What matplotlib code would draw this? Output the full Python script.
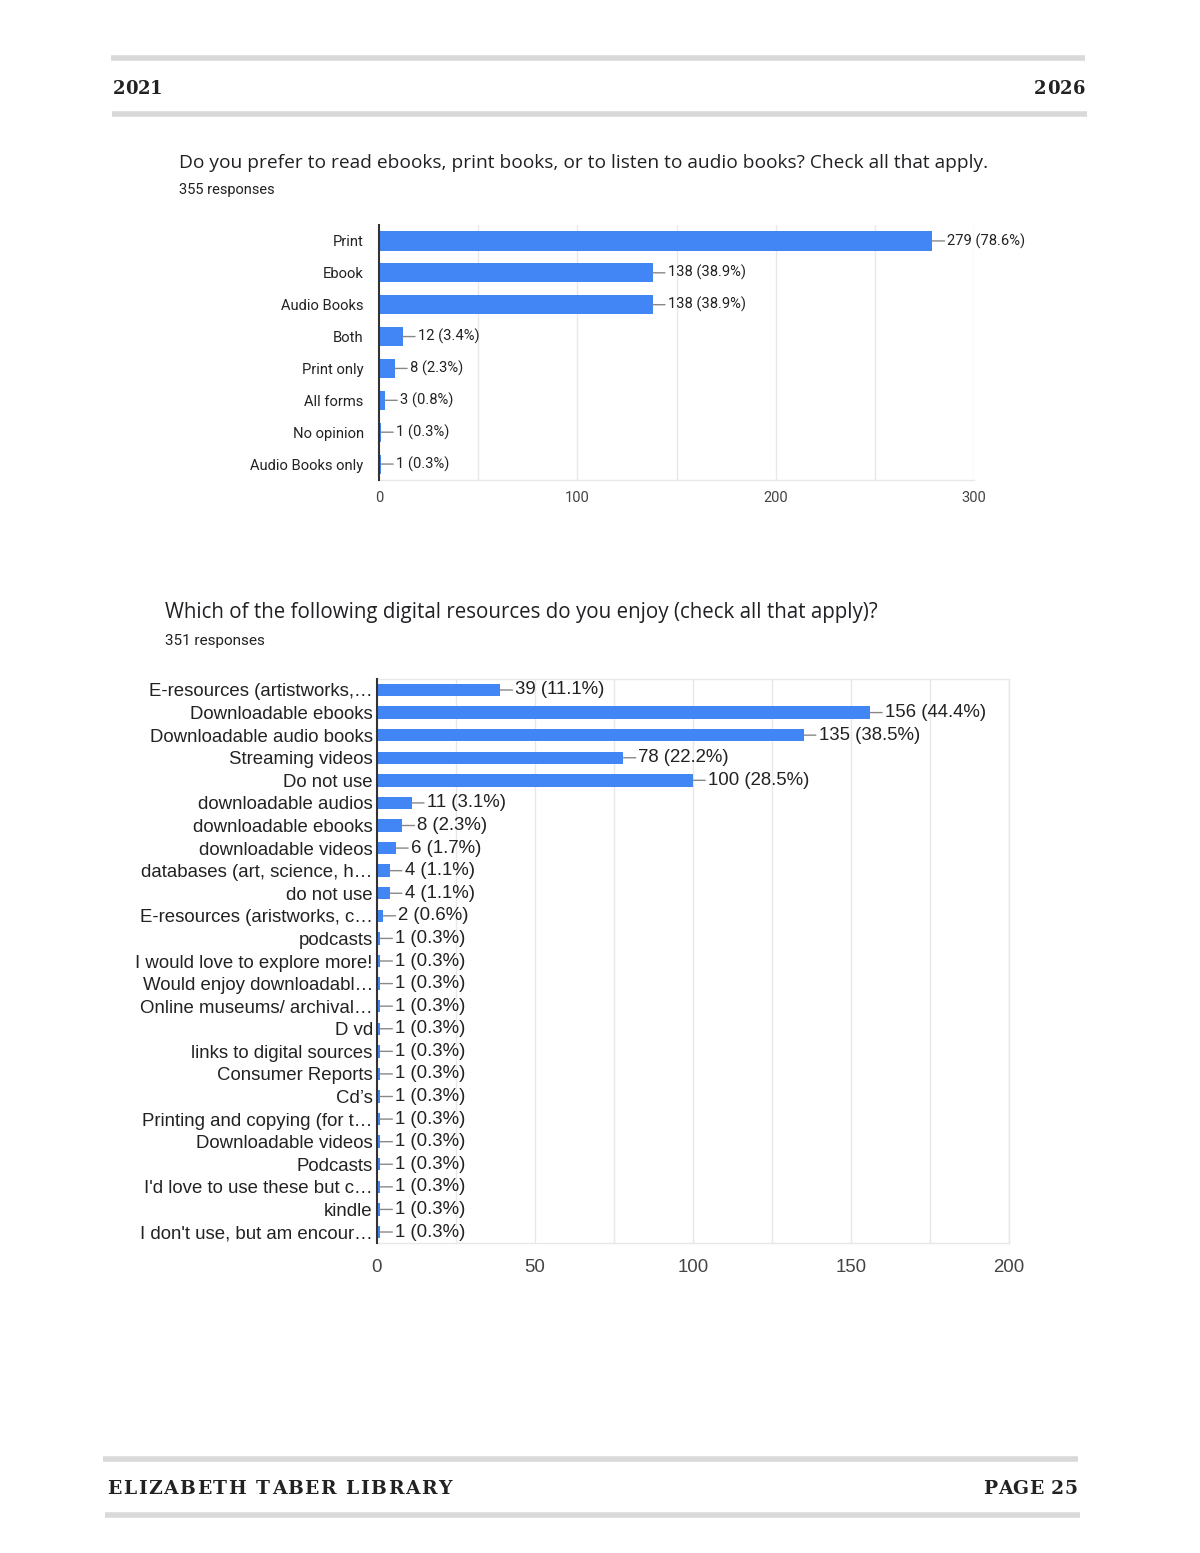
import matplotlib
matplotlib.use('Agg')
import matplotlib.pyplot as plt
from matplotlib.lines import Line2D
from matplotlib.font_manager import FontProperties

W, H = 1200, 1553

# Chart 1 data
fmt_labels = ['Print', 'Ebook', 'Audio Books', 'Both', 'Print only', 'All forms',
              'No opinion', 'Audio Books only']
fmt_counts = [279, 138, 138, 12, 8, 3, 1, 1]
fmt_pct = ['78.6%', '38.9%', '38.9%', '3.4%', '2.3%', '0.8%', '0.3%', '0.3%']

# Chart 2 data
dig_labels = ['E-resources (artistworks,…', 'Downloadable ebooks', 'Downloadable audio books',
              'Streaming videos', 'Do not use', 'downloadable audios', 'downloadable ebooks',
              'downloadable videos', 'databases (art, science, h…', 'do not use',
              'E-resources (aristworks, c…', 'podcasts', 'I would love to explore more!',
              'Would enjoy downloadabl…', 'Online museums/ archival…', 'D vd',
              'links to digital sources', 'Consumer Reports', 'Cd’s',
              'Printing and copying (for t…', 'Downloadable videos', 'Podcasts',
              "I'd love to use these but c…", 'kindle', "I don't use, but am encour…"]
dig_counts = [39, 156, 135, 78, 100, 11, 8, 6, 4, 4, 2] + [1] * 14
dig_pct = ['11.1%', '44.4%', '38.5%', '22.2%', '28.5%', '3.1%', '2.3%', '1.7%',
           '1.1%', '1.1%', '0.6%'] + ['0.3%'] * 14

BLUE = '#4285f4'

fig = plt.figure(figsize=(W / 100, H / 100), dpi=100)
renderer = fig.canvas.get_renderer()


def fx(x):
    return x / W


def fy(y):
    return 1 - y / H


def hline(x0, x1, y, lw=4):
    fig.add_artist(Line2D([fx(x0), fx(x1)], [fy(y), fy(y)], color='#d9d9d9',
                          lw=lw, solid_capstyle='butt', transform=fig.transFigure))


def spaced_text(s, x, y, width, align='left', size=14):
    # draw text letter by letter so it spreads over the given pixel width
    fp = FontProperties(family='DejaVu Serif', weight='bold', size=size)

    def w(t):
        return renderer.get_text_width_height_descent(t + '|', fp, ismath=False)[0] - \
            renderer.get_text_width_height_descent('|', fp, ismath=False)[0]

    natural = w(s)
    extra = (width - natural) / max(len(s) - 1, 1)
    start = x if align == 'left' else x - width
    for i, ch in enumerate(s):
        px = start + w(s[:i]) + i * extra
        fig.text(fx(px), fy(y), ch, fontproperties=fp, color='#222222',
                 va='center', ha='left')


# page header / footer
hline(111, 1085, 58)
hline(112, 1087, 114)
spaced_text('2021', 113, 89, 49, 'left', 13)
spaced_text('2026', 1085, 89, 51, 'right', 13)
hline(103, 1078, 1459)
hline(105, 1080, 1515)
spaced_text('ELIZABETH TABER LIBRARY', 107, 1489, 344, 'left', 13.5)
spaced_text('PAGE 25', 1078, 1489, 95, 'right', 13.5)


def draw_chart(rect, labels, counts, pct, xmax, major, minor, lab_size, tick_size,
               family, gap, xpad, frame):
    x0, y0, x1, y1 = rect
    ax = fig.add_axes([fx(x0), fy(y1), fx(x1) - fx(x0), (y1 - y0) / H])
    n = len(labels)
    pos = list(range(n))
    ax.barh(pos, counts, height=0.6 if n < 10 else 0.55, color=BLUE, zorder=3)
    ax.set_ylim(n - 0.5, -0.5)
    ax.set_xlim(0, xmax)
    ax.set_yticks(pos)
    ax.set_yticklabels(labels, family=family, size=lab_size, color='#222222')
    ax.set_xticks(range(0, xmax + 1, major))
    ax.set_xticklabels([str(v) for v in range(0, xmax + 1, major)], family=family,
                       size=tick_size, color='#444444')
    for v in range(minor, xmax + 1, minor):
        ax.axvline(v, color='#e8e8e8', lw=1, zorder=1)
    ax.tick_params(axis='both', length=0)
    ax.tick_params(axis='y', pad=gap)
    ax.tick_params(axis='x', pad=xpad)
    for s in ['top', 'right', 'bottom']:
        ax.spines[s].set_visible(s in frame)
        ax.spines[s].set_color('#e8e8e8')
        ax.spines[s].set_linewidth(1)
    ax.spines['left'].set_color('#333333')
    ax.spines['left'].set_linewidth(1.5)
    ax.spines['left'].set_zorder(4)
    for i, (c, p) in enumerate(zip(counts, pct)):
        ax.annotate(f'{c} ({p})', xy=(c, i), xytext=(15, 0), textcoords='offset pixels',
                    va='center', ha='left', family=family, size=lab_size,
                    color='#222222',
                    arrowprops=dict(arrowstyle='-', color='#888888', lw=1,
                                    shrinkA=0, shrinkB=0))
    return ax


# Chart 1
fig.text(fx(179), fy(163), 'Do you prefer to read ebooks, print books, or to listen to audio '
         'books? Check all that apply.', family='Open Sans', size=13.75,
         color='#202124', va='center', ha='left')
fig.text(fx(179), fy(190), '355 responses', family='Roboto', size=10.5,
         color='#202124', va='center', ha='left')
draw_chart((379, 225, 974, 480), fmt_labels, fmt_counts, fmt_pct, 300, 100, 50,
           10.6, 10.5, 'Roboto', 11, 8, ['bottom'])

# Chart 2
fig.text(fx(165), fy(613), 'Which of the following digital resources do you enjoy '
         '(check all that apply)?', family='Open Sans', size=14.8,
         color='#202124', va='center', ha='left')
fig.text(fx(165), fy(641), '351 responses', family='Roboto', size=11,
         color='#202124', va='center', ha='left')
draw_chart((377, 678.7, 1009, 1243.3), dig_labels, dig_counts, dig_pct, 200, 50, 25,
           13.4, 13.4, 'Liberation Sans', 3, 11, ['top', 'bottom', 'right'])

fig.savefig('out.png', dpi=100, facecolor='white')
